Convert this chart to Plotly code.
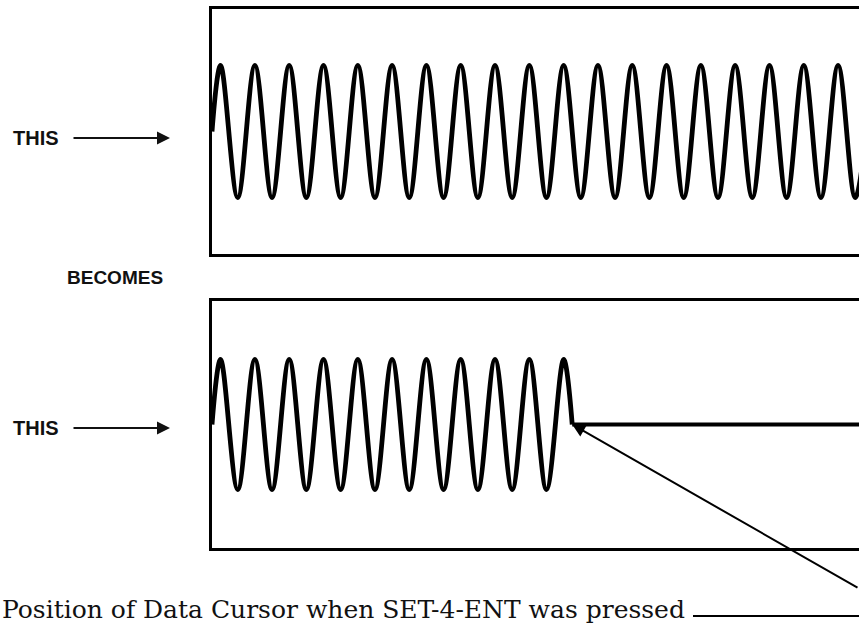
import plotly.graph_objects as go

# ---- data (time in cycles, level in relative amplitude) ----
top_t = [0.0, 0.25, 0.75, 1.25, 1.75, 2.25, 2.75, 3.25, 3.75, 4.25, 4.75,
         5.25, 5.75, 6.25, 6.75, 7.25, 7.75, 8.25, 8.75, 9.25, 9.75,
         10.25, 10.75, 11.25, 11.75, 12.25, 12.75, 13.25, 13.75, 14.25, 14.75,
         15.25, 15.75, 16.25, 16.75, 17.25, 17.75, 18.25, 18.75, 19.25]
top_v = [0, 1, -1, 1, -1, 1, -1, 1, -1, 1, -1,
         1, -1, 1, -1, 1, -1, 1, -1, 1, -1,
         1, -1, 1, -1, 1, -1, 1, -1, 1, -1,
         1, -1, 1, -1, 1, -1, 1, -1, 1]

bot_t = [0.0, 0.25, 0.75, 1.25, 1.75, 2.25, 2.75, 3.25, 3.75, 4.25, 4.75,
         5.25, 5.75, 6.25, 6.75, 7.25, 7.75, 8.25, 8.75, 9.25, 9.75,
         10.25, 10.5]
bot_v = [0, 1, -1, 1, -1, 1, -1, 1, -1, 1, -1,
         1, -1, 1, -1, 1, -1, 1, -1, 1, -1,
         1, 0]

cursor_t = 10.5
flat_t = [10.5, 19.5]
flat_v = [0, 0]

visible_cycles = 18.86

W, H = 859, 624


def px(x):
    return x / W


def py(y):
    return 1 - y / H


fig = go.Figure()
fig.add_trace(go.Scatter(x=top_t, y=top_v, mode='lines', xaxis='x', yaxis='y',
                         line=dict(color='#000', width=4.8, shape='spline'),
                         hoverinfo='skip', showlegend=False))
fig.add_trace(go.Scatter(x=bot_t, y=bot_v, mode='lines', xaxis='x2', yaxis='y2',
                         line=dict(color='#000', width=4.8, shape='spline'),
                         hoverinfo='skip', showlegend=False))
fig.add_trace(go.Scatter(x=flat_t, y=flat_v, mode='lines', xaxis='x2', yaxis='y2',
                         line=dict(color='#000', width=4),
                         hoverinfo='skip', showlegend=False))

ax_common = dict(showline=True, linecolor='#000', linewidth=2.5, showticklabels=False,
                 ticks='', showgrid=False, zeroline=False, fixedrange=True)

fig.update_layout(
    width=W, height=H, margin=dict(l=0, r=0, t=0, b=0),
    paper_bgcolor='white', plot_bgcolor='white', showlegend=False,
    xaxis=dict(domain=[px(212), 1], range=[0, visible_cycles], mirror=True, anchor='y', **ax_common),
    yaxis=dict(domain=[py(254), py(9)], range=[-1.856, 1.856], mirror=False, anchor='x', **ax_common),
    xaxis2=dict(domain=[px(212), 1], range=[0, visible_cycles], mirror=True, anchor='y2', **ax_common),
    yaxis2=dict(domain=[py(548), py(301)], range=[-1.9, 1.9], mirror=False, anchor='x2', **ax_common),
)

label_font = dict(family='Liberation Sans, Arial, sans-serif', size=20, color='#111')
ann = []
for yc in (138, 428):
    ann.append(dict(xref='paper', yref='paper', x=px(11), y=py(yc), xanchor='left', yanchor='middle',
                    text='<b>THIS</b>', showarrow=False, font=label_font))
    ann.append(dict(xref='paper', yref='paper', x=px(170), y=py(yc), text='', showarrow=True,
                    axref='pixel', ayref='pixel', ax=-98, ay=0, arrowhead=2, arrowsize=1.3,
                    arrowwidth=2, arrowcolor='#111'))
ann.append(dict(xref='paper', yref='paper', x=px(65), y=py(277), xanchor='left', yanchor='middle',
                text='<b>BECOMES</b>', showarrow=False,
                font=dict(family='Liberation Sans, Arial, sans-serif', size=19, color='#111')))
ann.append(dict(xref='x2', yref='y2', x=cursor_t, y=0, text='', showarrow=True,
                ax=287, ay=164, arrowhead=2, arrowsize=1.3, arrowwidth=2, arrowcolor='#000'))
ann.append(dict(xref='paper', yref='paper', x=0, y=py(609), xanchor='left', yanchor='middle',
                text='Position of Data Cursor when SET-4-ENT was pressed', showarrow=False,
                font=dict(family='DejaVu Serif, serif', size=25, color='#111')))
fig.update_layout(annotations=ann)

fig.add_shape(type='line', xref='paper', yref='paper', x0=px(693), x1=1, y0=py(616), y1=py(616),
              line=dict(color='#000', width=2))

fig.write_html('out.html', config={'displayModeBar': False},
               post_script="document.body.style.margin='0';document.body.style.overflow='hidden';")
